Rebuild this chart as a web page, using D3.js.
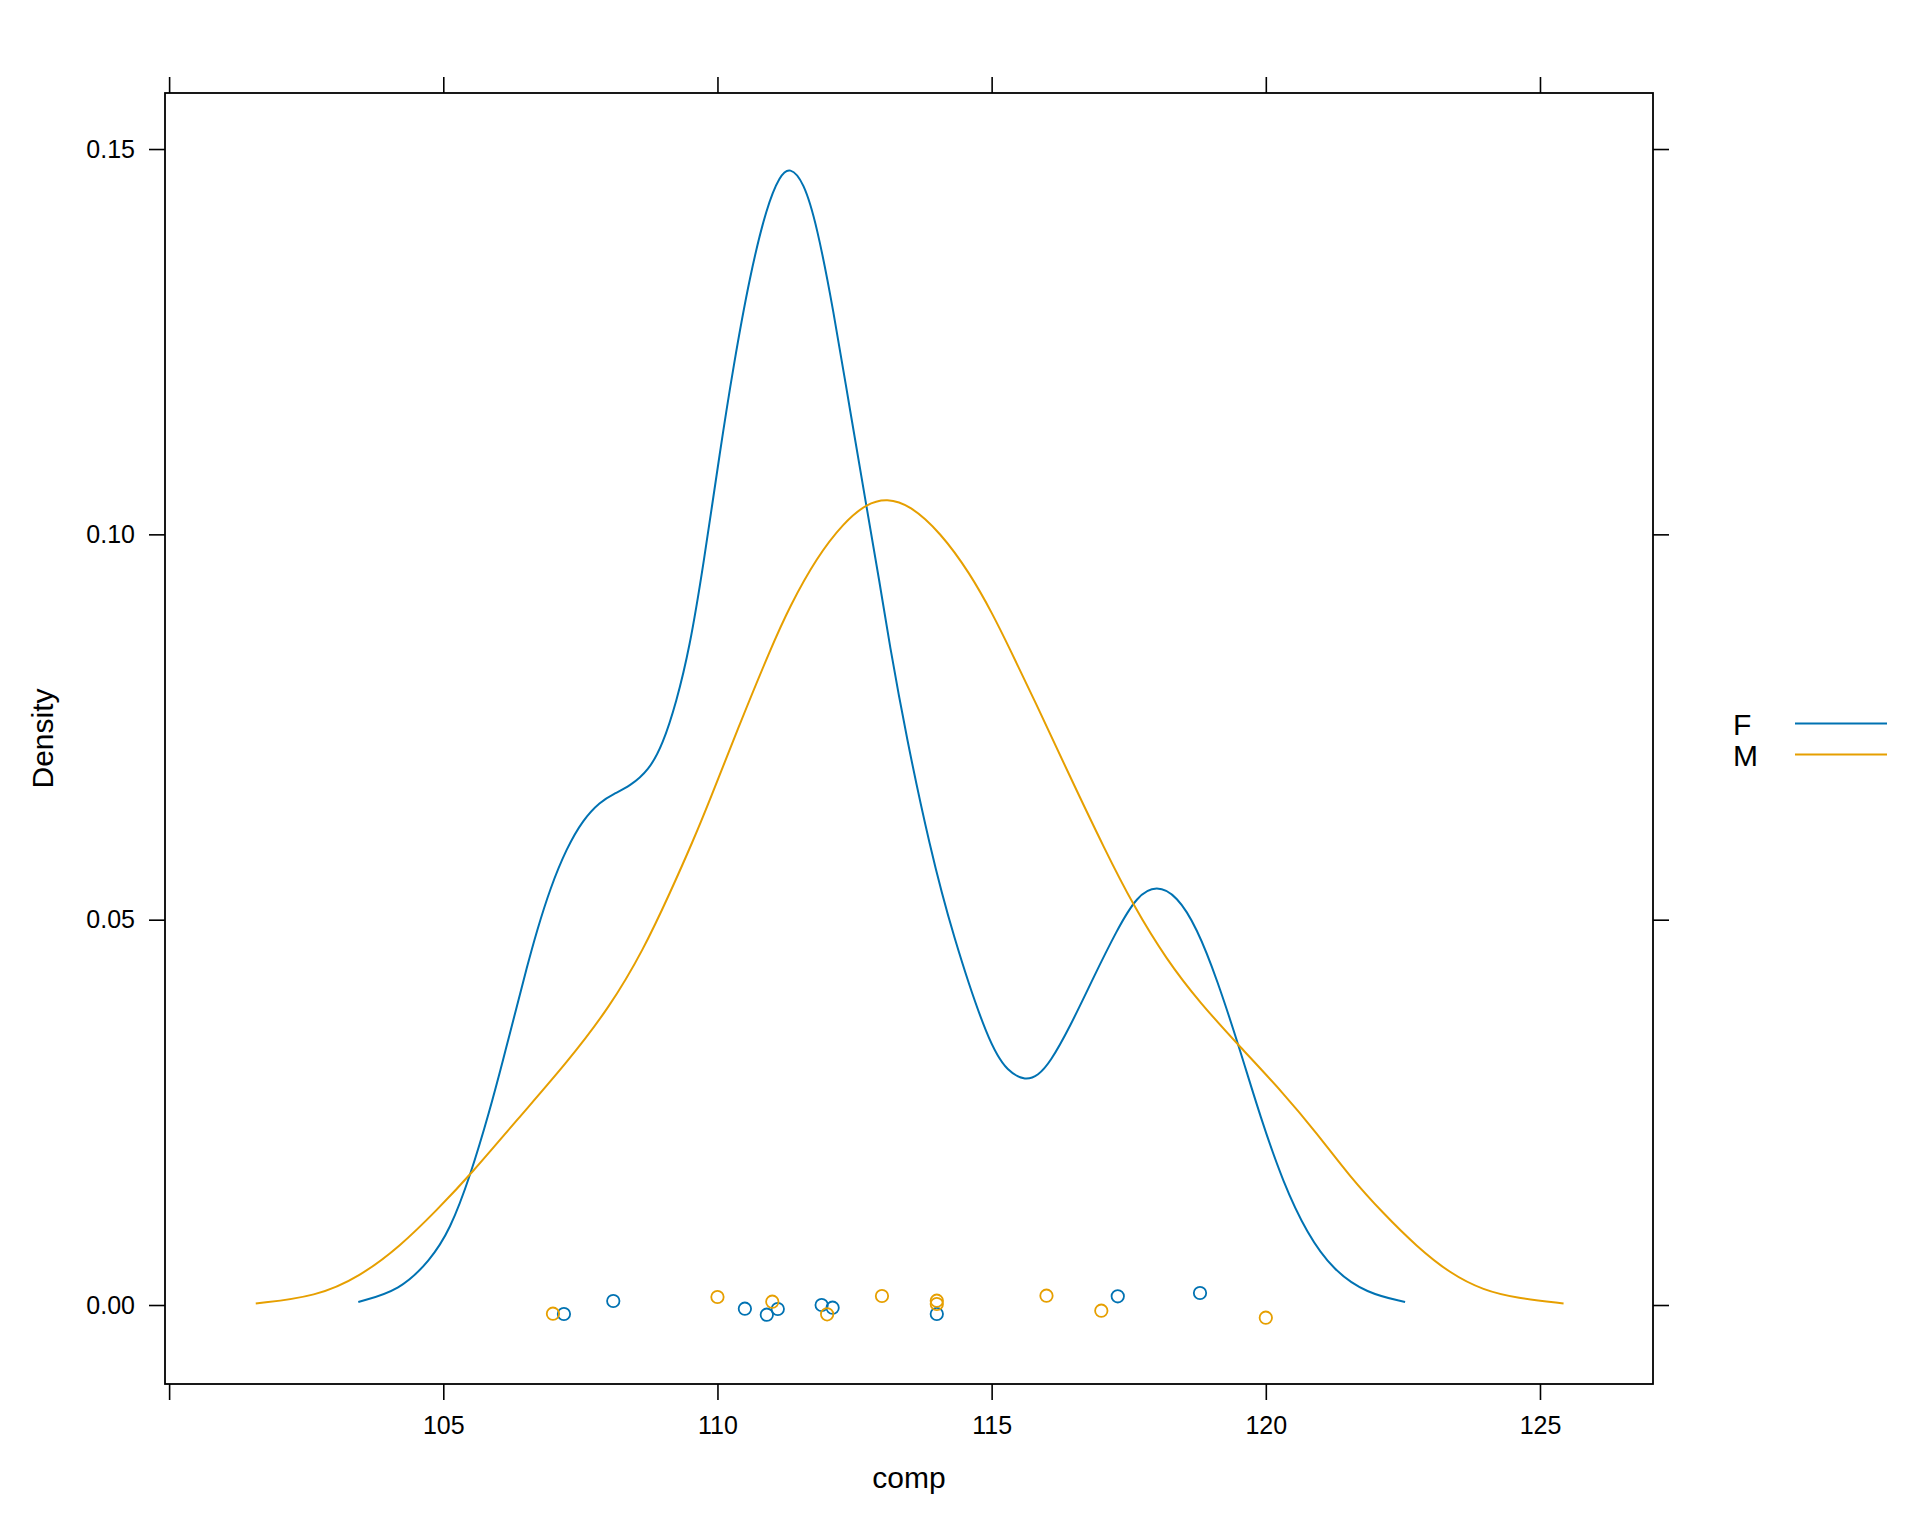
<!DOCTYPE html>
<html>
<head>
<meta charset="utf-8">
<script src="https://cdn.jsdelivr.net/npm/d3@7"></script>
<style>
  html, body { margin: 0; padding: 0; background: #fff; }
  svg { display: block; }
  text { font-family: "Liberation Sans", Arial, Helvetica, sans-serif; fill: #000; }
</style>
</head>
<body>
<svg id="chart" width="1920" height="1536"></svg>
<script>
// ---------- data ----------
const groups = ["F", "M"];
const groupColors = ["#0072B2", "#E69F00"];

// density curve of group F: [comp, density]
const densityF = [
  [103.45, 0.0004], [104.21, 0.0019], [104.76, 0.0058], [105.12, 0.0097],
  [105.49, 0.0167], [105.85, 0.0253], [106.09, 0.0318], [106.34, 0.0387],
  [106.52, 0.0437], [106.70, 0.0484], [106.95, 0.0541], [107.25, 0.0593],
  [107.55, 0.0630], [107.86, 0.0653], [108.10, 0.0663], [108.40, 0.0673],
  [108.75, 0.0694], [109.00, 0.0727], [109.25, 0.0782], [109.49, 0.0852],
  [109.74, 0.0958], [110.05, 0.1110], [110.29, 0.1218], [110.59, 0.1336],
  [110.90, 0.1426], [111.14, 0.1466], [111.32, 0.1477], [111.57, 0.1458],
  [111.81, 0.1402], [112.11, 0.1293], [112.42, 0.1160], [112.72, 0.1035],
  [112.96, 0.0937], [113.13, 0.0860], [113.45, 0.0735], [113.87, 0.0595],
  [114.28, 0.0482], [114.95, 0.0338], [115.30, 0.0302], [115.62, 0.0291],
  [115.85, 0.0298], [116.06, 0.0314], [116.43, 0.0361], [116.85, 0.0424],
  [117.28, 0.0486], [117.65, 0.0531], [118.01, 0.0545], [118.38, 0.0531],
  [118.74, 0.0490], [119.11, 0.0423], [119.53, 0.0331], [119.90, 0.0244],
  [120.32, 0.0158], [120.75, 0.0093], [121.23, 0.0045], [121.84, 0.0015],
  [122.54, 0.0004]
];

// density curve of group M: [comp, density]
const densityM = [
  [101.58, 0.0002], [102.69, 0.0011], [103.48, 0.0037], [104.21, 0.0076],
  [104.88, 0.0123], [105.52, 0.0171], [106.34, 0.0240], [107.25, 0.0314],
  [108.04, 0.0387], [108.65, 0.0461], [109.13, 0.0534], [109.56, 0.0603],
  [109.86, 0.0655], [110.40, 0.0753], [110.96, 0.0850], [111.32, 0.0907],
  [111.81, 0.0970], [112.30, 0.1015], [112.72, 0.1040], [113.09, 0.1047],
  [113.51, 0.1038], [114.06, 0.1003], [114.61, 0.0949], [115.03, 0.0895],
  [115.30, 0.0856], [115.80, 0.0782], [116.40, 0.0690], [117.07, 0.0590],
  [117.58, 0.0519], [118.19, 0.0448], [118.80, 0.0392], [119.53, 0.0335],
  [120.32, 0.0275], [120.93, 0.0223], [121.54, 0.0166], [122.14, 0.0119],
  [122.75, 0.0076], [123.36, 0.0041], [123.97, 0.0019], [124.58, 0.0009],
  [125.43, 0.0002]
];

// raw observations (jittered vertically in the reference)
const pointsF = [107.2, 108.1, 110.5, 110.9, 111.1, 111.9, 112.1, 114.0, 117.3, 118.8];
const jitterF = [-0.00117, 0.00052, -0.00048, -0.00126, -0.00052, 0.0, -0.00035, -0.00117, 0.00113, 0.00156];
const pointsM = [107.0, 110.0, 111.0, 112.0, 113.0, 114.0, 114.0, 116.0, 117.0, 120.0];
const jitterM = [-0.00113, 0.00104, 0.00043, -0.00121, 0.00117, 0.00056, 0.00013, 0.00121, -0.00074, -0.00165];

const xTicks = [100, 105, 110, 115, 120, 125];
const xTickLabels = ["", "105", "110", "115", "120", "125"];
const yTicks = [0, 0.05, 0.10, 0.15];
const yTickLabels = ["0.00", "0.05", "0.10", "0.15"];
const xLabel = "comp";
const yLabel = "Density";

// ---------- layout ----------
const panel = { left: 165, right: 1653, top: 93, bottom: 1384 };
const xDomain = [99.925, 127.061];
const yDomain = [-0.01025, 0.15727];
const tickLen = 16;

const svg = d3.select("#chart");
const x = d3.scaleLinear().domain(xDomain).range([panel.left, panel.right]);
const y = d3.scaleLinear().domain(yDomain).range([panel.bottom, panel.top]);

function styleAxis(g) {
  g.select(".domain").remove();
  g.selectAll(".tick line").attr("stroke", "#000").attr("stroke-width", 1.6);
}
const tickFont = g => g.selectAll("text").attr("font-size", 25).attr("fill", "#000")
  .style("font-family", '"Liberation Sans", Arial, sans-serif');

svg.append("g")
  .attr("transform", `translate(0,${panel.bottom})`)
  .call(d3.axisBottom(x).tickValues(xTicks).tickSize(tickLen).tickPadding(16)
    .tickFormat((d, i) => xTickLabels[i]))
  .call(styleAxis).call(tickFont);

svg.append("g")
  .attr("transform", `translate(0,${panel.top})`)
  .call(d3.axisTop(x).tickValues(xTicks).tickSize(tickLen).tickFormat(() => ""))
  .call(styleAxis);

svg.append("g")
  .attr("transform", `translate(${panel.left},0)`)
  .call(d3.axisLeft(y).tickValues(yTicks).tickSize(tickLen).tickPadding(14)
    .tickFormat((d, i) => yTickLabels[i]))
  .call(styleAxis).call(tickFont);

svg.append("g")
  .attr("transform", `translate(${panel.right},0)`)
  .call(d3.axisRight(y).tickValues(yTicks).tickSize(tickLen).tickFormat(() => ""))
  .call(styleAxis);

// panel border
svg.append("rect")
  .attr("x", panel.left).attr("y", panel.top)
  .attr("width", panel.right - panel.left).attr("height", panel.bottom - panel.top)
  .attr("fill", "none").attr("stroke", "#000").attr("stroke-width", 1.8);

// curves
const line = d3.line()
  .x(d => x(d[0])).y(d => y(d[1]))
  .curve(d3.curveBasis);

const plot = svg.append("g");
[densityF, densityM].forEach((dens, i) => {
  plot.append("path")
    .datum(dens)
    .attr("d", line)
    .attr("fill", "none")
    .attr("stroke", groupColors[i])
    .attr("stroke-width", 2);
});

// points
[[pointsF, jitterF], [pointsM, jitterM]].forEach(([pts, jit], gi) => {
  plot.selectAll(null)
    .data(pts.map((v, k) => [v, jit[k]]))
    .enter().append("circle")
    .attr("cx", d => x(d[0]))
    .attr("cy", d => y(d[1]))
    .attr("r", 6.2)
    .attr("fill", "none")
    .attr("stroke", groupColors[gi])
    .attr("stroke-width", 1.8);
});

// axis labels
svg.append("text")
  .attr("x", (panel.left + panel.right) / 2)
  .attr("y", 1488)
  .attr("text-anchor", "middle")
  .attr("font-size", 30)
  .text(xLabel);

svg.append("text")
  .attr("transform", `translate(53,${(panel.top + panel.bottom) / 2}) rotate(-90)`)
  .attr("text-anchor", "middle")
  .attr("font-size", 30)
  .text(yLabel);

// legend
const legend = svg.append("g");
groups.forEach((g, i) => {
  const base = 735 + i * 31;
  legend.append("text")
    .attr("x", 1733).attr("y", base)
    .attr("font-size", 30)
    .text(g);
  legend.append("line")
    .attr("x1", 1795).attr("x2", 1887)
    .attr("y1", base - 11.5).attr("y2", base - 11.5)
    .attr("stroke", groupColors[i]).attr("stroke-width", 2);
});
</script>
</body>
</html>
